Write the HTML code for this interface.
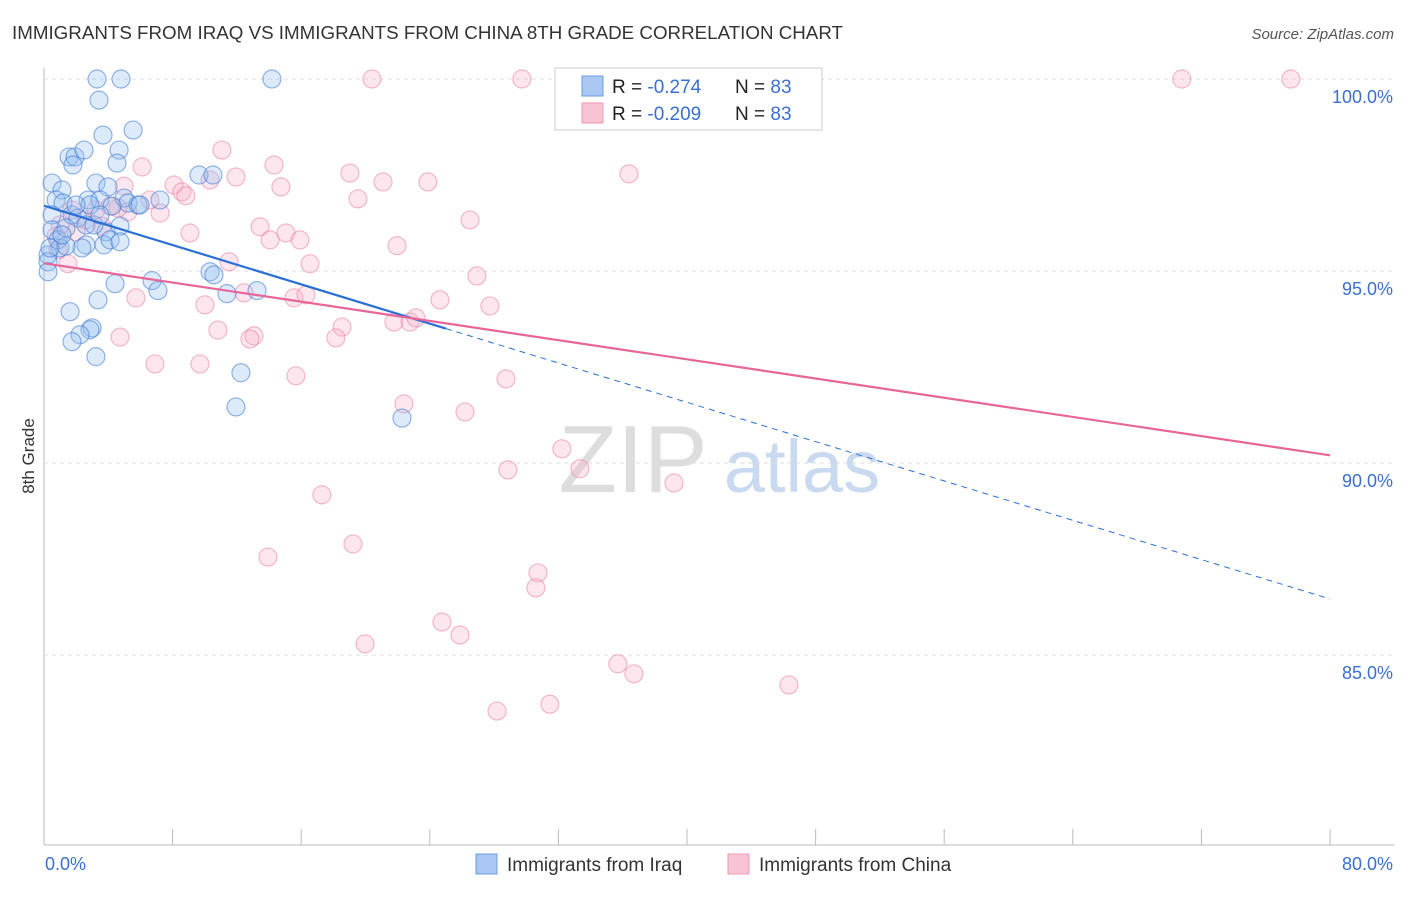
<!DOCTYPE html>
<html><head><meta charset="utf-8"><style>
body{margin:0;background:#fff;font-family:"Liberation Sans",sans-serif;}
svg text{font-family:"Liberation Sans",sans-serif;}
</style></head><body>
<svg id="chart" width="1406" height="892" xmlns="http://www.w3.org/2000/svg">
<text x="12" y="39" font-size="18" fill="#333" textLength="831" lengthAdjust="spacingAndGlyphs">IMMIGRANTS FROM IRAQ VS IMMIGRANTS FROM CHINA 8TH GRADE CORRELATION CHART</text>
<text x="1394" y="39" font-size="15" fill="#555" text-anchor="end" font-style="italic">Source: ZipAtlas.com</text>
<text transform="translate(34,456) rotate(-90)" font-size="17" fill="#333" text-anchor="middle">8th Grade</text>
<g>
<text x="633" y="492" font-size="96" fill="#ddd" font-family="Liberation Serif" text-anchor="middle">ZIP</text>
<text x="802" y="492" font-size="74" fill="#c8d9f0" text-anchor="middle">atlas</text>
</g>
<g id="grid"></g>
<g id="axes"></g>
<g id="marks"></g>
<g id="lines"></g>
<g>
<rect x="555" y="68" width="267" height="62" fill="#fff" stroke="#ccc"/>
<rect x="582" y="76" width="21" height="20" fill="#aac8f3" stroke="#6b9be0"/>
<rect x="582" y="103" width="21" height="20" fill="#f8c3d3" stroke="#ee98b4"/>
<text x="612" y="93" font-size="19" fill="#222">R = <tspan fill="#3a6fd0"> -0.274</tspan></text>
<text x="735" y="93" font-size="19" fill="#222">N = <tspan fill="#3a6fd0">83</tspan></text>
<text x="612" y="120" font-size="19" fill="#222">R = <tspan fill="#3a6fd0">-0.209</tspan></text>
<text x="735" y="120" font-size="19" fill="#222">N = <tspan fill="#3a6fd0">83</tspan></text>
</g>
<g>
<rect x="476" y="854" width="21" height="20" fill="#aac8f3" stroke="#6b9be0"/>
<text x="507" y="871" font-size="19" fill="#333">Immigrants from Iraq</text>
<rect x="728" y="854" width="21" height="20" fill="#f8c3d3" stroke="#ee98b4"/>
<text x="759" y="871" font-size="19" fill="#333">Immigrants from China</text>
</g>
</svg>
<script>
const yTicks=[100,95,90,85];
const yTickLabels=["100.0%","95.0%","90.0%","85.0%"];
const xEndLabels=["0.0%","80.0%"];
const iraqX=[3.30,4.79,14.18,3.42,3.67,5.54,1.56,1.93,2.49,4.67,4.54,1.80,0.50,1.12,3.23,3.98,0.75,1.18,2.74,3.48,4.98,5.22,7.22,5.85,9.64,10.51,0.50,1.74,2.11,2.61,3.86,4.73,0.50,0.87,2.61,3.73,4.11,1.00,2.36,0.25,0.25,0.25,6.72,4.42,7.09,10.33,10.57,11.38,13.25,3.36,1.62,2.99,2.86,2.24,1.74,3.23,12.25,11.94,22.27,0.37,1.37,4.73,5.97,2.86,1.37,3.11,4.23,1.12,1.99,3.48];
const iraqY=[100,100,100,99.45,98.54,98.67,97.97,97.97,98.15,98.15,97.81,97.76,97.29,97.11,97.29,97.19,96.85,96.77,96.85,96.85,96.90,96.77,96.85,96.72,97.50,97.50,96.46,96.46,96.38,96.20,96.02,96.17,96.07,95.81,95.68,95.68,95.81,95.60,95.60,95.42,95.24,94.98,94.75,94.67,94.49,94.98,94.90,94.41,94.49,94.25,93.94,93.52,93.47,93.34,93.16,92.77,92.35,91.46,91.17,95.60,95.65,95.76,96.72,96.72,96.12,96.20,96.69,95.94,96.72,96.46];
const chinaX=[20.40,29.73,32.97,70.78,77.56,11.07,6.10,14.31,19.03,11.94,21.09,23.88,36.39,14.74,8.09,8.58,8.83,10.33,4.98,19.53,26.50,7.22,13.44,15.05,9.08,21.96,1.74,3.23,4.11,5.22,1.00,0.87,1.49,11.51,16.55,26.93,5.72,10.01,12.44,15.55,16.30,27.74,18.54,21.77,22.77,23.14,10.82,13.06,12.81,18.16,4.73,6.90,9.70,15.67,28.74,22.39,26.19,32.22,33.34,28.86,39.19,17.29,19.22,13.93,30.73,30.60,24.76,25.88,19.97,35.70,36.70,46.34,31.47,28.18,2.61,3.61,1.99,0.75,6.59,14.06,24.63,15.92,4.60];
const chinaY=[100,100,100,100,100,98.15,97.71,97.76,97.55,97.45,97.32,97.32,97.53,97.19,97.24,97.06,96.96,97.37,97.21,96.88,96.33,96.51,96.15,95.99,95.99,95.66,96.59,96.59,96.69,96.54,96.20,95.55,95.19,95.24,95.19,94.87,94.30,94.12,94.43,94.30,94.38,94.09,93.54,93.67,93.67,93.78,93.46,93.31,93.23,93.26,93.28,92.58,92.58,92.27,92.19,91.54,91.33,90.37,89.85,89.82,89.48,89.17,87.89,87.55,87.14,86.75,85.86,85.52,85.29,84.77,84.51,84.22,83.72,83.54,96.33,96.17,96.02,95.91,96.85,95.81,94.25,95.81,96.64];
const iraqFit=[96.7,-0.128];
const chinaFit=[95.2,-0.0625];
const iraqSolidEnd=25, fitEnd=80;

const NS="http://www.w3.org/2000/svg";
const X0=44,X1=1330,YTOP=79,PX_PER_PCT=38.4;
const xs=v=>X0+(X1-X0)*v/80;
const ys=v=>YTOP+(100-v)*PX_PER_PCT;
function mk(tag,attrs,parent){const e=document.createElementNS(NS,tag);for(const k in attrs)e.setAttribute(k,attrs[k]);parent.appendChild(e);return e;}
const grid=document.getElementById('grid'),axes=document.getElementById('axes'),marks=document.getElementById('marks'),lines=document.getElementById('lines');
yTicks.forEach((t,i)=>{
  const l=mk('line',{x1:X0,x2:1394,y1:ys(t),y2:ys(t),stroke:'#ddd','stroke-dasharray':'4,4'},grid);
  
  
  const tx=mk('text',{x:1393,y:ys(t)+24,'font-size':18,fill:'#3a6fd0','text-anchor':'end'},axes);
  tx.textContent=yTickLabels[i];
  
  
});
const ax=mk('line',{x1:X0,x2:X0,y1:68,y2:845,stroke:'#bbb'},axes);


const bx=mk('line',{x1:X0,x2:1394,y1:845,y2:845,stroke:'#bbb'},axes);


for(let i=1;i<=10;i++){
  const t=mk('line',{x1:xs(i*8),x2:xs(i*8),y1:829,y2:845,stroke:'#bbb'},axes);
  
  
}
const xl0=mk('text',{x:45,y:870,'font-size':18,fill:'#3a6fd0'},axes);xl0.textContent=xEndLabels[0];


const xl1=mk('text',{x:1393,y:870,'font-size':18,fill:'#3a6fd0','text-anchor':'end'},axes);xl1.textContent=xEndLabels[1];


chinaX.forEach((v,i)=>{
  const c=mk('circle',{cx:xs(v),cy:ys(chinaY[i]),r:9,fill:'rgba(248,180,200,0.33)',stroke:'rgba(232,120,160,0.5)','stroke-width':1.2},marks);
  
  
});
iraqX.forEach((v,i)=>{
  const c=mk('circle',{cx:xs(v),cy:ys(iraqY[i]),r:9,fill:'rgba(150,190,240,0.33)',stroke:'rgba(60,120,210,0.55)','stroke-width':1.2},marks);
  
  
});
const f=(fit,x)=>fit[0]+fit[1]*x;
const l1=mk('line',{x1:xs(0),y1:ys(f(iraqFit,0)),x2:xs(iraqSolidEnd),y2:ys(f(iraqFit,iraqSolidEnd)),stroke:'#2a6fd6','stroke-width':2.2},lines);


const l2=mk('line',{x1:xs(iraqSolidEnd),y1:ys(f(iraqFit,iraqSolidEnd)),x2:xs(fitEnd),y2:ys(f(iraqFit,fitEnd)),stroke:'#2a6fd6','stroke-width':1,'stroke-dasharray':'6,5'},lines);


const l3=mk('line',{x1:xs(0),y1:ys(f(chinaFit,0)),x2:xs(fitEnd),y2:ys(f(chinaFit,fitEnd)),stroke:'#e8659a','stroke-width':2.2},lines);


</script>
</body></html>
